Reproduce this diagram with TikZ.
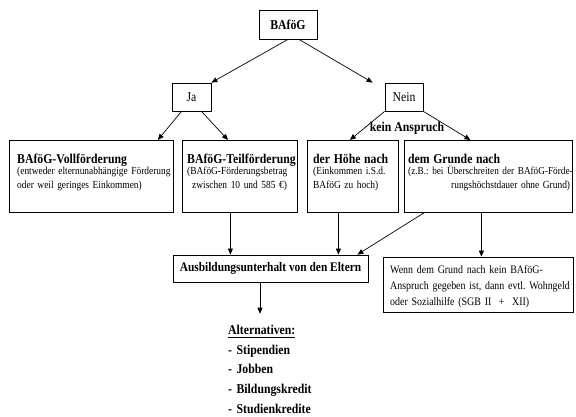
\documentclass[tikz,border=0pt]{standalone}
\usepackage{fontspec}
\setmainfont{Liberation Serif}[FakeStretch=0.87]
\usetikzlibrary{arrows.meta}
\frenchspacing

\newcommand\gross{\fontsize{13.5}{16}\selectfont\bfseries}
\newcommand\klein{\fontsize{10.8}{14}\selectfont}
\newcommand\unterstrich[1]{\setbox0\hbox{#1}\rlap{\rule[-3.8pt]{\wd0}{1.3pt}}\box0}

\begin{document}
\begin{tikzpicture}[x=1pt, y=-1pt,
  every node/.style={inner sep=0pt},
  >={Triangle[length=6pt,width=5pt]}
]
\tikzset{
  kasten/.style={draw, line width=0.8pt},
  pfeil/.style={->, line width=0.7pt},
  textblock/.style={anchor=base west, align=left, text width=220pt, font=\klein}
}
\useasboundingbox (0,0) rectangle (576,417);

% oben
\node[kasten, minimum width=58pt, minimum height=29pt, font=\gross] (bafoeg) at (288,24.5) {BAföG};
\node[kasten, minimum width=39pt, minimum height=28pt, font=\fontsize{13.5}{16}\selectfont] (ja) at (191.5,97) {Ja};
\node[kasten, minimum width=38pt, minimum height=28pt, font=\fontsize{13.5}{16}\selectfont] (nein) at (404,97) {Nein};

\draw[pfeil] (bafoeg.south) -- (ja.north east);
\draw[pfeil] ([xshift=11]bafoeg.south) -- ([xshift=-12]nein.north west);

% mittlere Reihe
\node[kasten, minimum width=164pt, minimum height=72pt, anchor=north west] (voll) at (9,140) {};
\node[textblock] (vollT) at (17,163.5) {{\gross BAföG-Vollförderung}\\[-2.5pt](entweder elternunabhängige Förderung\\oder weil geringes Einkommen)};

\node[kasten, minimum width=115pt, minimum height=72pt, anchor=north west] (teil) at (182,140) {};
\node[textblock] (teilT) at (187,163.5) {{\gross BAföG-Teilförderung}\\[-2.5pt](BAföG-Förderungsbetrag\\\hspace*{5pt}zwischen 10 und 585 €)};

\node[kasten, minimum width=91pt, minimum height=72pt, anchor=north west] (hoehe) at (307,140) {};
\node[textblock] (hoeheT) at (313,163.5) {{\gross der Höhe nach}\\[-2.5pt](Einkommen i.S.d.\\BAföG zu hoch)};

\node[kasten, minimum width=168pt, minimum height=72pt, anchor=north west] (grund) at (404,140) {};
\node[textblock] (grundT) at (408,163.5) {{\gross dem Grunde nach}\\[-2.5pt]{\fontsize{10.6}{14}\selectfont(z.B.: bei Überschreiten der BAföG-Förde-}\\\hspace*{43pt}rungshöchstdauer ohne Grund)};

\draw[pfeil] ([xshift=-10]ja.south) -- ([xshift=-16]voll.north east);
\draw[pfeil] ([xshift=10]ja.south) -- ([xshift=46]teil.north west);
\draw[pfeil] (nein.south west) -- ([xshift=-3]hoehe.north);
\draw[pfeil] (nein.south east) -- ([xshift=-18]grund.north);
\node[font=\gross] (kein) at (407,128) {kein Anspruch};

% unten
\node[kasten, minimum width=195pt, minimum height=27pt, font=\fontsize{13.1}{16}\selectfont\bfseries] (eltern) at (270.5,268.5) {Ausbildungsunterhalt von den Eltern};
\node[kasten, minimum width=190pt, minimum height=55pt] (wenn) at (478,284.5) {};
\node[textblock, font=\fontsize{11.4}{16}\selectfont] (wennT) at (390,273)
  {Wenn dem Grund nach kein BAföG-\\Anspruch gegeben ist, dann evtl. Wohngeld\\oder Sozialhilfe (SGB II \ + \ XII)};

\draw[pfeil] ([xshift=-9.5]teil.south) -- ([xshift=-9.5]teil.south |- eltern.north);
\draw[pfeil] ([xshift=-14.5]hoehe.south) -- ([xshift=-14.5]hoehe.south |- eltern.north);
\draw[pfeil] ([xshift=20]grund.south west) -- ([xshift=-11]eltern.north east);
\draw[pfeil] ([xshift=-7]grund.south) -- ([xshift=-7]grund.south |- wenn.north);

\node[anchor=base west, align=left, text width=120pt, font=\fontsize{13.5}{19.7}\selectfont\bfseries] (alt) at (228,334.3)
  {\unterstrich{Alternativen:}\\- Stipendien\\- Jobben\\- Bildungskredit\\- Studienkredite};
\draw[pfeil, shorten >=11pt] ([xshift=-10.5]eltern.south) -- ([xshift=-10.5]eltern.south |- alt.north);
\end{tikzpicture}
\end{document}
